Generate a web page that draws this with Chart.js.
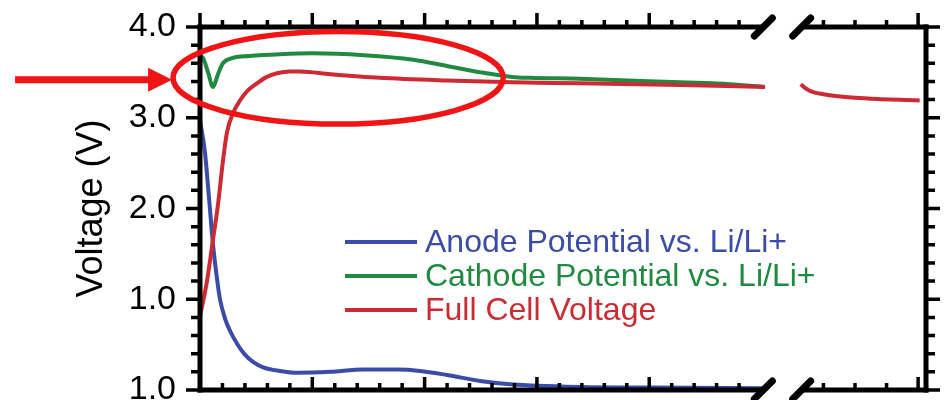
<!DOCTYPE html>
<html>
<head>
<meta charset="utf-8">
<title>Voltage</title>
<script src="https://cdn.jsdelivr.net/npm/chart.js@4/dist/chart.umd.min.js"></script>
<style>
  html, body { margin: 0; padding: 0; background: #fff; }
  canvas { display: block; }
</style>
</head>
<body>
<canvas id="chart" width="950" height="400"></canvas>
<script>
// ---- Series, first section (left part of the broken x-axis) ----
const anodeX = [0, 0.22, 0.40, 0.58, 0.76, 0.89, 1.11, 1.34, 1.65, 2.0, 2.36, 2.81, 3.56, 4.32, 5.79, 7.26, 8.78, 9.8, 11.0, 12.47, 13.94, 15.46, 16.93, 20.04, 25.15];
const anodeV = [2.97, 2.62, 2.12, 1.60, 1.22, 1.00, 0.79, 0.65, 0.51, 0.39, 0.31, 0.25, 0.21, 0.19, 0.20, 0.225, 0.225, 0.21, 0.165, 0.10, 0.06, 0.044, 0.033, 0.027, 0.02];

const cathodeX = [0, 0.13, 0.36, 0.58, 0.80, 1.02, 1.47, 2.2, 3.56, 5.0, 7.3, 9.5, 11.0, 12.5, 13.9, 14.7, 16.9, 21.4, 23.6, 25.15];
const cathodeV = [3.68, 3.66, 3.50, 3.34, 3.48, 3.60, 3.66, 3.68, 3.70, 3.71, 3.69, 3.64, 3.57, 3.50, 3.45, 3.44, 3.43, 3.39, 3.37, 3.34];

const cellX = [0, 0.31, 0.58, 0.80, 1.02, 1.20, 1.47, 1.78, 2.09, 2.54, 2.98, 3.43, 4.0, 4.45, 5.8, 8.0, 11.0, 13.9, 16.9, 21.4, 25.15];
const cellV = [0.81, 1.20, 1.66, 2.04, 2.52, 2.84, 3.05, 3.19, 3.29, 3.38, 3.45, 3.49, 3.51, 3.51, 3.48, 3.44, 3.41, 3.39, 3.38, 3.36, 3.34];

// ---- Full cell voltage, section after the axis break ----
const cellLateX = [46.28, 46.45, 46.65, 47.0, 47.4, 48.0, 48.8, 49.6, 50.05];
const cellLateV = [3.37, 3.32, 3.285, 3.26, 3.24, 3.22, 3.205, 3.195, 3.19];

// ---- Labels ----
const seriesNames = ['Anode Potential vs. Li/Li+', 'Cathode Potential vs. Li/Li+', 'Full Cell Voltage'];
const seriesColors = ['#3a4ca8', '#1f8a40', '#cd2a33'];
const yTickLabels = ['1.0', '1.0', '2.0', '3.0', '4.0'];   // bottom to top
const yTitle = 'Voltage (V)';

// ---- Axis break and highlight ----
const breakAt = { xL: 25.08, xR: 46.31 };
const highlight = { x: 6.15, y: 3.44, rx: 7.35, ry: 0.51 };   // data units, left section

const FONT = "'Liberation Sans', Arial, Helvetica, sans-serif";
Chart.defaults.font.family = FONT;
Chart.defaults.color = '#000';

const toPoints = (xs, ys) => xs.map((x, i) => ({ x: x, y: ys[i] }));

const lineStyle = (color) => ({
  borderColor: color,
  backgroundColor: color,
  borderWidth: 4,
  pointRadius: 0,
  fill: false,
  cubicInterpolationMode: 'monotone'
});

// Frame, ticks, axis break, highlight ellipse with arrow, and in-plot legend
const framePlugin = {
  id: 'frame',
  afterDatasetsDraw(chart) {
    const ctx = chart.ctx;
    const area = chart.chartArea;
    const xL = chart.scales.xL, xR = chart.scales.xR, y = chart.scales.y;
    const top = area.top, bottom = area.bottom, left = area.left, right = area.right;
    const bL = xL.getPixelForValue(breakAt.xL);
    const bR = xR.getPixelForValue(breakAt.xR);

    ctx.save();
    ctx.strokeStyle = '#000';
    ctx.lineCap = 'butt';

    // tick marks
    ctx.lineWidth = 3.5;
    const xTicks = (scale, lo, hi) => {
      for (let v = Math.ceil(scale.min); v <= Math.floor(scale.max); v++) {
        const px = scale.getPixelForValue(v);
        if (px < lo || px > hi) continue;
        const major = v % 5 === 0;
        ctx.beginPath();
        ctx.moveTo(px, top); ctx.lineTo(px, top - (major ? 14 : 7));
        ctx.moveTo(px, bottom); ctx.lineTo(px, bottom - (major ? 13 : 7));
        ctx.stroke();
      }
    };
    xTicks(xL, left, bL - 8);
    xTicks(xR, bR + 8, right - 2);

    for (let i = 0; i <= 20; i++) {
      const v = y.min + i * 0.2;
      const py = y.getPixelForValue(v);
      const major = i % 5 === 0;
      ctx.beginPath();
      ctx.moveTo(left, py); ctx.lineTo(left - (major ? 14 : 9), py);
      ctx.moveTo(right, py); ctx.lineTo(right + (major ? 14 : 9), py);
      ctx.stroke();
    }

    // axis lines
    ctx.lineWidth = 5;
    ctx.lineCap = 'square';
    ctx.beginPath();
    ctx.moveTo(left, top); ctx.lineTo(left, bottom);
    ctx.moveTo(right, top); ctx.lineTo(right, bottom);
    ctx.stroke();
    ctx.lineCap = 'butt';
    ctx.beginPath();
    ctx.moveTo(left - 2.5, top); ctx.lineTo(bL, top);
    ctx.moveTo(bR, top); ctx.lineTo(right + 2.5, top);
    ctx.moveTo(left - 2.5, bottom); ctx.lineTo(bL, bottom);
    ctx.moveTo(bR, bottom); ctx.lineTo(right + 2.5, bottom);
    ctx.stroke();

    // break marks
    ctx.lineWidth = 7;
    ctx.lineCap = 'round';
    [bL, bR].forEach((bx) => {
      [top, bottom].forEach((by) => {
        ctx.beginPath();
        ctx.moveTo(bx - 9, by + 9);
        ctx.lineTo(bx + 9, by - 9);
        ctx.stroke();
      });
    });

    // highlight ellipse
    const cx = xL.getPixelForValue(highlight.x);
    const cy = y.getPixelForValue(highlight.y);
    const rx = xL.getPixelForValue(highlight.x + highlight.rx) - cx;
    const ry = cy - y.getPixelForValue(highlight.y + highlight.ry);
    ctx.strokeStyle = '#f01414';
    ctx.fillStyle = '#f01414';
    ctx.lineWidth = 5.5;
    ctx.beginPath();
    ctx.ellipse(cx, cy, rx, ry, 0, 0, Math.PI * 2);
    ctx.stroke();

    // arrow pointing at the ellipse
    const tipX = cx - rx - 1, ay = cy + 2;
    ctx.lineWidth = 7;
    ctx.lineCap = 'butt';
    ctx.beginPath();
    ctx.moveTo(tipX - 157, ay);
    ctx.lineTo(tipX - 20, ay);
    ctx.stroke();
    ctx.beginPath();
    ctx.moveTo(tipX, ay);
    ctx.lineTo(tipX - 24, ay - 12);
    ctx.lineTo(tipX - 24, ay + 12);
    ctx.closePath();
    ctx.fill();

    // legend
    const lx = left + 145, ly = top + 215, rowH = 34;
    ctx.font = '32px ' + FONT;
    ctx.textBaseline = 'middle';
    ctx.textAlign = 'left';
    seriesNames.forEach((name, i) => {
      const yy = ly + i * rowH;
      ctx.strokeStyle = seriesColors[i];
      ctx.fillStyle = seriesColors[i];
      ctx.lineWidth = 4;
      ctx.beginPath();
      ctx.moveTo(lx, yy);
      ctx.lineTo(lx + 72, yy);
      ctx.stroke();
      ctx.fillText(name, lx + 80, yy + 1);
    });
    ctx.restore();
  }
};

new Chart(document.getElementById('chart'), {
  type: 'line',
  data: {
    datasets: [
      Object.assign({ label: seriesNames[2], data: toPoints(cellX, cellV), xAxisID: 'xL', yAxisID: 'y' }, lineStyle(seriesColors[2])),
      Object.assign({ label: seriesNames[2], data: toPoints(cellLateX, cellLateV), xAxisID: 'xR', yAxisID: 'y' }, lineStyle(seriesColors[2])),
      Object.assign({ label: seriesNames[1], data: toPoints(cathodeX, cathodeV), xAxisID: 'xL', yAxisID: 'y' }, lineStyle(seriesColors[1])),
      Object.assign({ label: seriesNames[0], data: toPoints(anodeX, anodeV), xAxisID: 'xL', yAxisID: 'y' }, lineStyle(seriesColors[0]))
    ]
  },
  options: {
    responsive: false,
    devicePixelRatio: 1,
    animation: false,
    layout: { padding: { top: 27, right: 24, bottom: 10, left: 0 } },
    plugins: {
      legend: { display: false },
      tooltip: { enabled: false }
    },
    scales: {
      xL: {
        type: 'linear', position: 'bottom', stack: 'x', stackWeight: 584,
        min: 0, max: 26, display: false
      },
      xR: {
        type: 'linear', position: 'bottom', stack: 'x', stackWeight: 142,
        min: 45.75, max: 50.25, display: false
      },
      y: {
        type: 'linear', position: 'left',
        min: 0, max: 4,
        grid: { display: false, drawTicks: false },
        border: { display: false },
        ticks: {
          stepSize: 1,
          padding: 24,
          font: { size: 34 },
          color: '#000',
          callback: (value, index) => yTickLabels[index]
        },
        title: {
          display: true,
          text: yTitle,
          color: '#000',
          font: { size: 36 },
          padding: { top: 70, bottom: 0 }
        },
        afterFit(scale) {
          scale.width = 200;
          scale.paddingTop = 0;
          scale.paddingBottom = 0;
        }
      }
    }
  },
  plugins: [framePlugin]
});
</script>
</body>
</html>
